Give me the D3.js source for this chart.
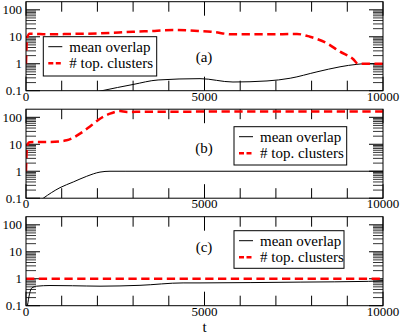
<!DOCTYPE html>
<html>
<head>
<meta charset="utf-8">
<script src="https://cdn.jsdelivr.net/npm/d3@7"></script>
<style>
  body { margin: 0; background: #fff; }
</style>
</head>
<body>
<svg id="chart"></svg>
<script>
// panel (a)
const tClustersA = [0, 30, 100, 672, 1300, 2073, 2600, 2997, 3600, 4118, 4874, 5182, 5798, 6751, 7591, 7955, 8431, 8796, 9160, 9300, 10000];
const clustersA = [1, 9, 13, 12.3, 12.8, 13.4, 14.5, 15.4, 16.5, 17.8, 16.3, 15.4, 12.3, 12.3, 12.7, 10, 5.7, 2.8, 1.5, 1, 1];
const tOverlapA = [0, 1000, 2130, 2997, 3700, 4874, 5798, 6751, 7400, 8150, 8796, 9270, 9500, 10000];
const overlapA = [0.02, 0.045, 0.1, 0.17, 0.25, 0.28, 0.21, 0.23, 0.29, 0.5, 0.77, 0.95, 1, 1];

// panel (b)
const tClustersB = [0, 30, 100, 672, 1140, 1513, 1793, 2073, 2353, 2633, 2820, 3193, 5000, 7000, 10000];
const clustersB = [1, 9, 12, 12.1, 14, 24.8, 46, 89, 137, 170, 158, 160, 163, 165, 165];
const tOverlapB = [0, 485, 952, 1325, 1700, 2073, 2353, 2800, 10000];
const overlapB = [0.03, 0.1, 0.246, 0.4, 0.65, 0.93, 1, 1, 1];

// panel (c)
const tClustersC = [0, 10000];
const clustersC = [1, 1];
const tOverlapC = [0, 40, 100, 160, 300, 672, 1300, 2073, 3193, 4400, 4874, 6300, 7700, 9600, 10000];
const overlapC = [0.05, 0.1, 0.28, 0.45, 0.53, 0.56, 0.55, 0.53, 0.57, 0.7, 0.7, 0.72, 0.75, 0.8, 0.85];

const panelNames = ["(a)", "(b)", "(c)"];
const legendLabels = ["mean overlap", "# top. clusters"];
const xTickLabels = [0, 5000, 10000];
const yTickLabels = [0.1, 1, 10, 100];

const panels = [
  { name: panelNames[0], overlap: [tOverlapA, overlapA], clusters: [tClustersA, clustersA] },
  { name: panelNames[1], overlap: [tOverlapB, overlapB], clusters: [tClustersB, clustersB] },
  { name: panelNames[2], overlap: [tOverlapC, overlapC], clusters: [tClustersC, clustersC] },
];

// layout bits per panel
const legendBox = [
  { x: 43.3, y: 36.7, w: 113.4, h: 39.3 },
  { x: 234, y: 126.7, w: 112.7, h: 38.3 },
  { x: 234, y: 230.7, w: 110, h: 37.6 },
];
const nameY = [62, 153, 252];

const size = { width: 402, height: 334 };
const plot = { left: 26, right: 383, top: 1.7, height: 89, step: 107.5 };
const serif = "Liberation Serif";

const svg = d3.select("#chart").attr("width", size.width).attr("height", size.height);

const label = (sel, fs) => sel.append("text").attr("font-family", serif).attr("font-size", fs).attr("fill", "#000");

const x = d3.scaleLinear().domain([0, 10000]).range([plot.left, plot.right]);

const minorY = [];
[0.1, 1, 10, 100].forEach((dec) => {
  for (let k = 2; k <= 9; k++) if (dec * k < 200) minorY.push(dec * k);
});

panels.forEach((p, i) => {
  const top = plot.top + i * plot.step;
  const bottom = top + plot.height;
  const y = d3.scaleLog().domain([0.1, 200]).range([bottom, top]);

  const g = svg.append("g");

  g.append("clipPath")
    .attr("id", `clip${i}`)
    .append("rect")
    .attr("x", plot.left)
    .attr("y", top)
    .attr("width", plot.right - plot.left)
    .attr("height", plot.height);

  // ticks
  const ticks = g.append("g").attr("stroke", "#000").attr("stroke-width", 1);
  d3.range(0, 10001, 1000).forEach((t) => {
    const len = t % 5000 === 0 ? 14 : 10;
    ticks.append("line").attr("x1", x(t)).attr("x2", x(t)).attr("y1", bottom).attr("y2", bottom - len);
    ticks.append("line").attr("x1", x(t)).attr("x2", x(t)).attr("y1", top).attr("y2", top + len);
  });
  yTickLabels.forEach((v) => {
    ticks.append("line").attr("x1", plot.left).attr("x2", plot.left + 14).attr("y1", y(v)).attr("y2", y(v));
    ticks.append("line").attr("x1", plot.right).attr("x2", plot.right - 14).attr("y1", y(v)).attr("y2", y(v));
  });
  minorY.forEach((v) => {
    ticks.append("line").attr("x1", plot.left).attr("x2", plot.left + 10).attr("y1", y(v)).attr("y2", y(v)).attr("stroke-width", 0.8);
    ticks.append("line").attr("x1", plot.right).attr("x2", plot.right - 10).attr("y1", y(v)).attr("y2", y(v)).attr("stroke-width", 0.8);
  });

  // tick labels
  xTickLabels.forEach((t) => {
    label(g, 13)
      .attr("x", x(t))
      .attr("y", bottom + 9.8)
      .attr("text-anchor", "middle")
      .text(t);
  });
  yTickLabels.forEach((v) => {
    label(g, 13)
      .attr("x", 22)
      .attr("y", y(v) + 4.3)
      .attr("text-anchor", "end")
      .text(v);
  });

  const line = d3
    .line()
    .curve(d3.curveMonotoneX)
    .x((d) => x(d[0]))
    .y((d) => y(d[1]));

  const lines = g.append("g").attr("clip-path", `url(#clip${i})`);

  lines
    .append("path")
    .datum(d3.zip(p.overlap[0], p.overlap[1]))
    .attr("d", line)
    .attr("fill", "none")
    .attr("stroke", "#000")
    .attr("stroke-width", 1);

  lines
    .append("path")
    .datum(d3.zip(p.clusters[0], p.clusters[1]))
    .attr("d", line)
    .attr("fill", "none")
    .attr("stroke", "#ff0000")
    .attr("stroke-width", 2.5)
    .attr("stroke-dasharray", "8.3,4.5");

  // frame
  g.append("rect")
    .attr("x", plot.left)
    .attr("y", top)
    .attr("width", plot.right - plot.left)
    .attr("height", plot.height)
    .attr("fill", "none")
    .attr("stroke", "#000")
    .attr("stroke-width", 1);

  label(g, 15)
    .attr("x", 204)
    .attr("y", nameY[i])
    .attr("text-anchor", "middle")
    .text(p.name);

  // legend
  const lb = legendBox[i];
  const leg = g.append("g");
  leg.append("rect")
    .attr("x", lb.x)
    .attr("y", lb.y)
    .attr("width", lb.w)
    .attr("height", lb.h)
    .attr("fill", "#fff")
    .attr("stroke", "#000")
    .attr("stroke-width", 1);

  legendLabels.forEach((lab, j) => {
    const ly = lb.y + (j === 0 ? 10 : 26.5);
    leg.append("line")
      .attr("x1", lb.x + 5)
      .attr("x2", lb.x + 19)
      .attr("y1", ly)
      .attr("y2", ly)
      .attr("stroke", j === 0 ? "#000" : "#ff0000")
      .attr("stroke-width", j === 0 ? 1 : 2.5)
      .attr("stroke-dasharray", j === 0 ? null : "5,2.5");
    label(leg, 15)
      .attr("x", lb.x + 26)
      .attr("y", ly + 5)
      .text(lab);
  });
});

label(svg, 15)
  .attr("x", (plot.left + plot.right) / 2)
  .attr("y", 332)
  .attr("text-anchor", "middle")
  .text("t");
</script>
</body>
</html>
